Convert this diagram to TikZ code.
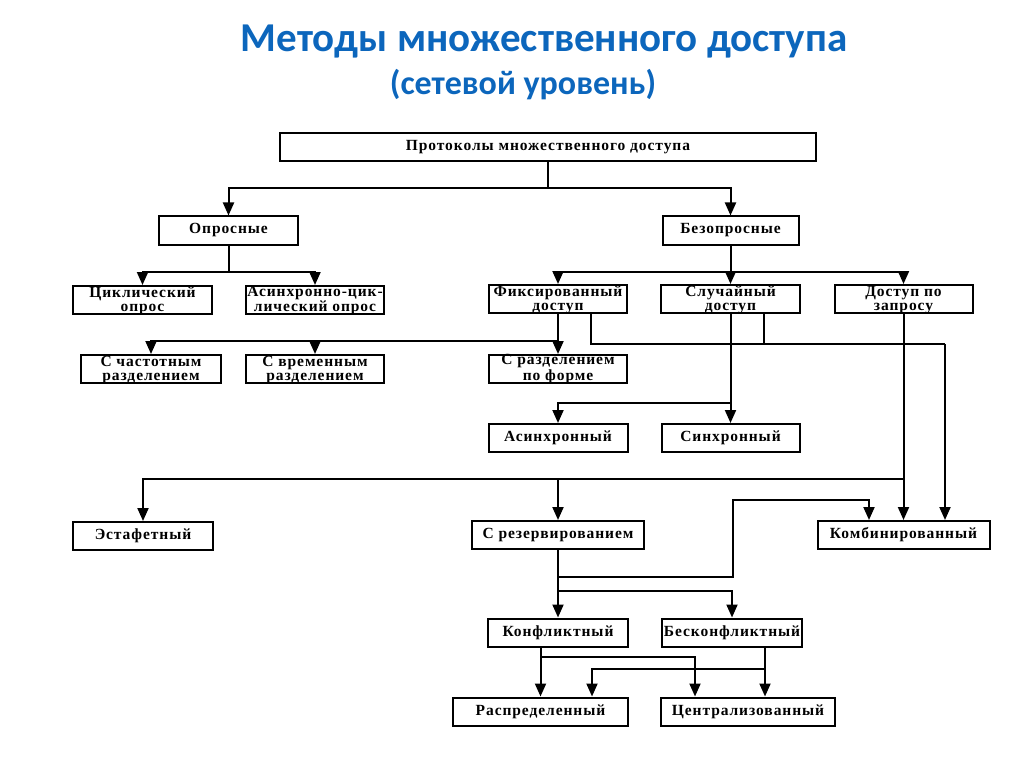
\documentclass[tikz,border=0pt]{standalone}
\usepackage{fontspec}
\setmainfont{Liberation Serif}
\newfontfamily\boxfont[LetterSpace=6]{Liberation Serif}
\newfontfamily\headfont{Carlito}
\usetikzlibrary{arrows.meta}
\definecolor{headblue}{RGB}{12,102,188}
\tikzset{
  box/.style={draw, line width=2pt, inner sep=0pt, minimum height=28pt, align=center,
    font={\boxfont\bfseries\fontsize{15.5}{13.5}\selectfont}},
  twoline/.style={text height=25pt, text depth=3pt},
  arr/.style={-{Triangle[width=11pt,length=13pt]}},
  head/.style={text=headblue, inner sep=0pt, anchor=base}
}

\begin{document}
\begin{tikzpicture}[x=10pt, y=-10pt, line width=2pt]
  \useasboundingbox (0,0) rectangle (102.4,76.7);

  \node[head, font={\headfont\bfseries\fontsize{41}{45}\selectfont}] (title) at (54.4,5.2) {Методы множественного доступа};
  \node[head, font={\headfont\bfseries\fontsize{34}{38}\selectfont}] (subtitle) at (52.3,9.5) {(сетевой уровень)};

  \node[box, minimum width=536pt] (proto) at (54.8,14.7) {Протоколы множественного доступа};
  \node[box, minimum width=139pt] (opros) at (22.85,23.05) {Опросные};
  \node[box, minimum width=136pt] (bezopr) at (73.05,23.05) {Безопросные};

  \node[box, twoline, minimum width=139pt] (cikl) at (14.25,30.0) {Циклический\\опрос};
  \node[box, twoline, minimum width=138pt] (asinc) at (31.5,30.0) {Асинхронно-цик-\\лический опрос};
  \node[box, twoline, minimum width=138pt] (fiks) at (55.8,29.9) {Фиксированный\\доступ};
  \node[box, twoline, minimum width=139pt] (sluch) at (73.05,29.9) {Случайный\\доступ};
  \node[box, twoline, minimum width=138pt] (zapros) at (90.35,29.9) {Доступ по\\запросу};

  \node[box, twoline, minimum width=140pt] (chast) at (15.1,36.9) {С частотным\\разделением};
  \node[box, twoline, minimum width=138pt] (vrem) at (31.5,36.9) {С временным\\разделением};
  \node[box, twoline, minimum width=138pt] (forma) at (55.8,36.9) {С разделением\\по форме};

  \node[box, minimum width=139pt] (asinhr) at (55.8,43.8) {Асинхронный};
  \node[box, minimum width=138pt] (sinhr) at (73.05,43.8) {Синхронный};

  \node[box, minimum width=140pt] (estaf) at (14.3,53.6) {Эстафетный};
  \node[box, minimum width=172pt] (rezerv) at (55.8,53.5) {С резервированием};
  \node[box, minimum width=172pt] (komb) at (90.35,53.5) {Комбинированный};

  \node[box, minimum width=140pt] (konfl) at (55.8,63.25) {Конфликтный};
  \node[box, minimum width=140pt] (beskonfl) at (73.2,63.25) {Бесконфликтный};

  \node[box, minimum width=175pt] (raspr) at (54.05,71.15) {Распределенный};
  \node[box, minimum width=174pt] (centr) at (74.8,71.15) {Централизованный};

  \coordinate (j1) at (54.8,18.8);
  \coordinate (j2) at (22.85,27.2);
  \coordinate (j3) at (73.05,27.2);
  \coordinate (j4) at (55.8,34.1);
  \coordinate (j5) at (73.05,40.3);
  \coordinate (j6) at (90.35,47.9);
  \coordinate (j7) at (55.8,59.1);
  \coordinate (j8) at (54.05,65.7);
  \coordinate (k1) at (59.1,34.4);
  \coordinate (k2) at (76.4,34.4);
  \coordinate (k3) at (94.5,34.4);
  \coordinate (r2) at (73.3,57.7);
  \coordinate (r4) at (86.9,50.0);
  \coordinate (c1) at (69.5,65.7);
  \coordinate (b1) at (76.5,66.9);
  \coordinate (b2) at (59.2,66.9);

  \draw (proto) -- (j1);
  \draw[arr] (j1) -| (opros);
  \draw[arr] (j1) -| (bezopr);

  \draw (opros) -- (j2);
  \draw[arr] (j2) -| (cikl);
  \draw[arr] (j2) -| (asinc);

  \draw (bezopr) -- (j3);
  \draw[arr] (j3) -| (fiks);
  \draw[arr] (j3) -- (sluch);
  \draw[arr] (j3) -| (zapros);

  \draw[arr] (fiks) -- (forma);
  \draw[arr] (j4) -| (chast);
  \draw[arr] (vrem |- j4) -- (vrem);

  \draw (fiks.south -| k1) -- (k1) -- (k3);
  \draw (sluch.south -| k2) -- (k2);
  \draw[arr] (k3) -- (komb.north -| k3);

  \draw[arr] (sluch) -- (sinhr);
  \draw[arr] (j5) -| (asinhr);

  \draw[arr] (zapros) -- (komb);
  \draw[arr] (j6) -| (estaf);
  \draw[arr] (rezerv |- j6) -- (rezerv);

  \draw[arr] (rezerv) |- (r2) |- (r4) -- (komb.north -| r4);
  \draw (rezerv) -- (j7);
  \draw[arr] (j7) -- (konfl);
  \draw[arr] (j7) -| (beskonfl);

  \draw[arr] (konfl.south -| raspr) -- (raspr);
  \draw[arr] (j8) -- (c1) -- (c1 |- centr.north);
  \draw[arr] (beskonfl.south -| b1) -- (b1 |- centr.north);
  \draw[arr] (b1) -- (b2) -- (b2 |- raspr.north);
\end{tikzpicture}
\end{document}
